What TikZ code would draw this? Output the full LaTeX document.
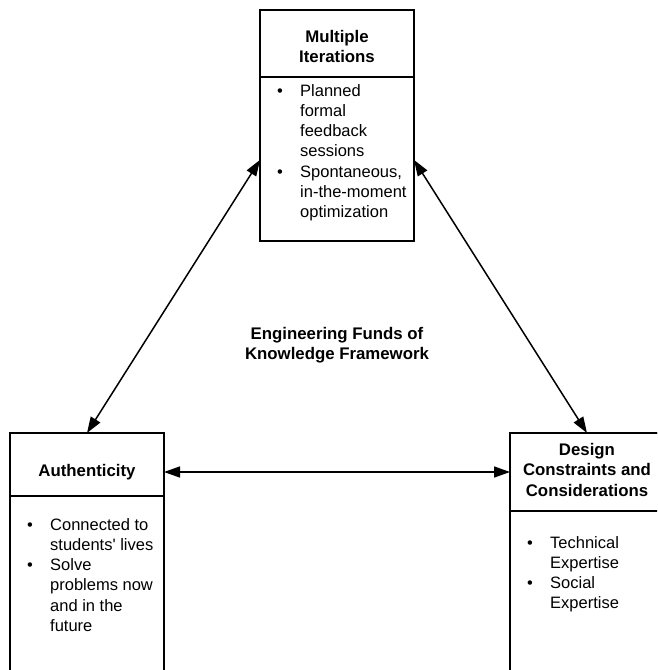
\documentclass[tikz,border=0pt]{standalone}
\usepackage{fontspec}
\setmainfont{Liberation Sans}
\usetikzlibrary{arrows.meta,calc}
\begin{document}
\begin{tikzpicture}[x=1pt,y=-1pt,
  box/.style={draw=black, line width=1.5pt, rectangle, inner sep=0pt, outer sep=0pt},
  hd/.style={font=\fontsize{16.8}{20.7}\selectfont\bfseries, inner sep=0pt, anchor=base},
  lst/.style={font=\fontsize{16.5}{20.3}\selectfont, inner sep=0pt, anchor=base west},
  arr/.style={line width=1.5pt, {Triangle[length=16pt,width=11pt]}-{Triangle[length=16pt,width=11pt]}}]
\useasboundingbox (0,0) rectangle (657,670);
\clip (0,0) rectangle (657,670);
% boxes
\node[box, minimum width=154pt, minimum height=231pt] (mi) at (337,125.5) {};
\node[box, minimum width=154pt, minimum height=67pt] (mihead) at (337,43.5) {};
\node[box, minimum width=154pt, minimum height=267pt] (au) at (87,566.5) {};
\node[box, minimum width=154pt, minimum height=63pt] (auhead) at (87,464.5) {};
\node[box, minimum width=154pt, minimum height=267pt] (dc) at (587,566.5) {};
\node[box, minimum width=154pt, minimum height=78pt] (dchead) at (587,472) {};
% headers
\node[hd] (mititle) at (337,42) {\begin{tabular}[t]{@{}c@{}}Multiple\\Iterations\end{tabular}};
\node[hd] (autitle) at (87,476) {Authenticity};
\node[hd] (dctitle) at (587,455) {\begin{tabular}[t]{@{}c@{}}Design\\Constraints and\\Considerations\end{tabular}};
\node[hd] (center) at (337,339) {\begin{tabular}[t]{@{}c@{}}Engineering Funds of\\Knowledge Framework\end{tabular}};
% lists
\node[lst] (milist) at (277,96) {\begin{tabular}[t]{@{}p{23pt}@{}l@{}}
•&Planned\\ &formal\\ &feedback\\ &sessions\\
•&Spontaneous,\\ &in-the-moment\\ &optimization\end{tabular}};
\node[lst] (aulist) at (27,530) {\begin{tabular}[t]{@{}p{23pt}@{}l@{}}
•&Connected to\\ &students\textquotesingle\ lives\\
•&Solve\\ &problems now\\ &and in the\\ &future\end{tabular}};
\node[lst] (dclist) at (527,548) {\begin{tabular}[t]{@{}p{23pt}@{}l@{}}
•&Technical\\ &Expertise\\
•&Social\\ &Expertise\end{tabular}};
% connectors
\coordinate (mil) at ($(mi.north west)!0.649!(mi.south west)$);
\coordinate (mir) at ($(mi.north east)!0.649!(mi.south east)$);
\draw[arr] (au.north) -- (mil);
\draw[arr] (mir) -- (dc.north);
\draw[arr] (dchead.west -| auhead.east) -- (dchead.west);
\end{tikzpicture}
\end{document}
